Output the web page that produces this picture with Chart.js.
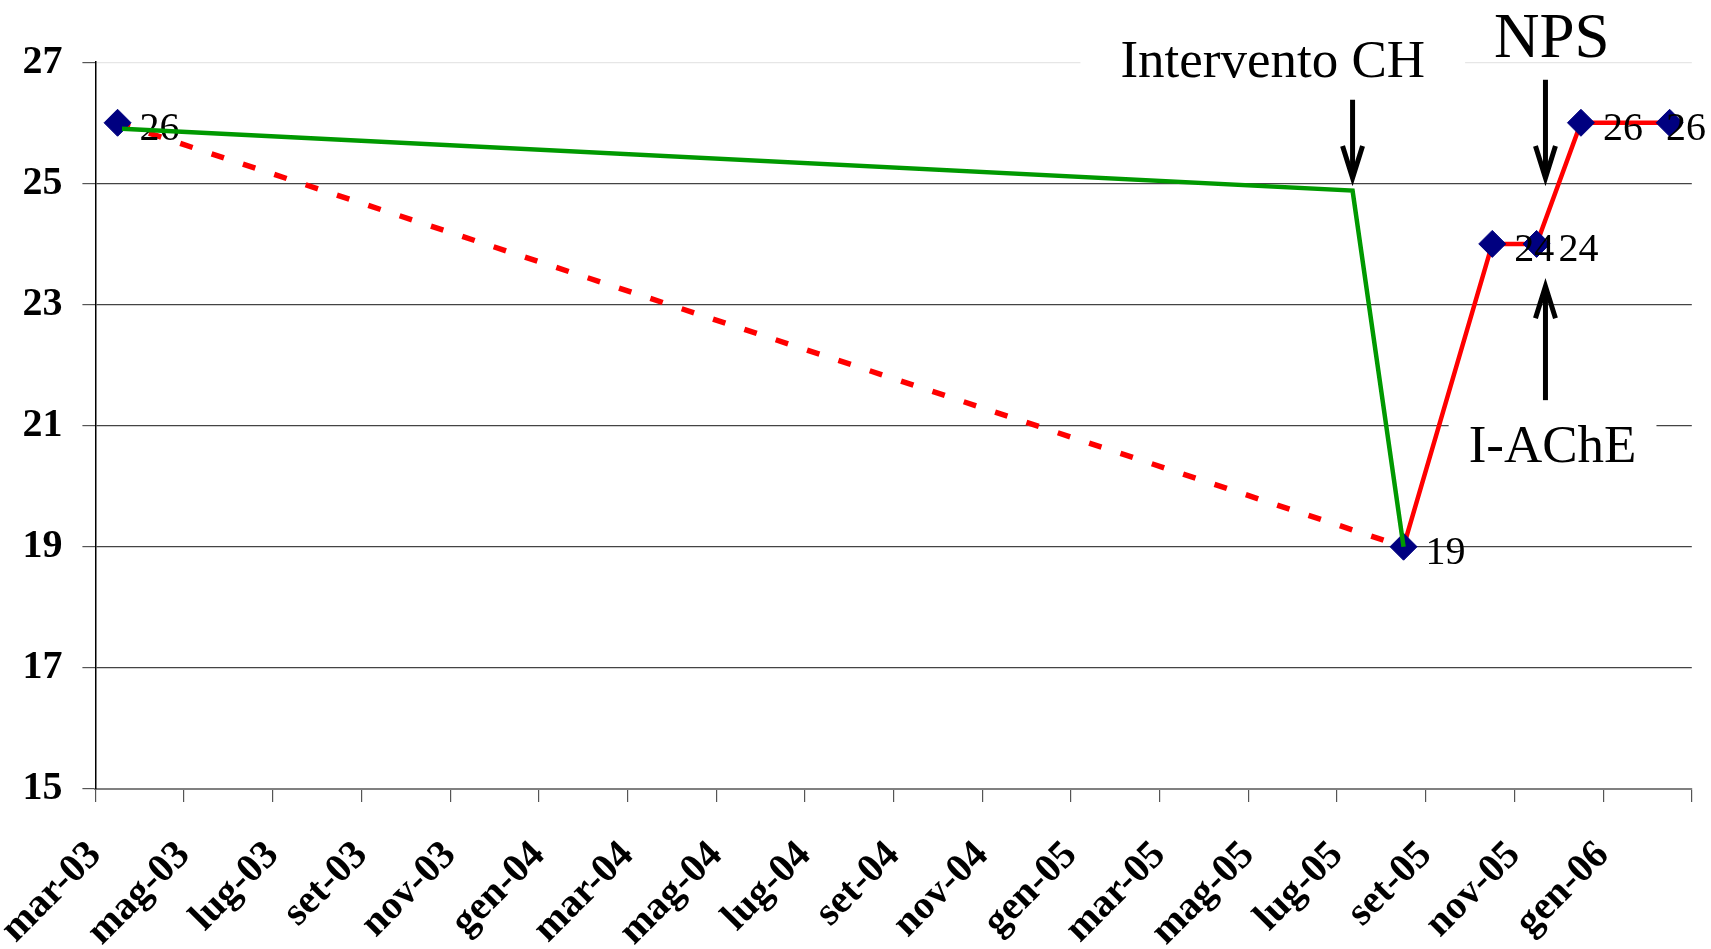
<!DOCTYPE html>
<html><head><meta charset="utf-8">
<script src="https://cdn.jsdelivr.net/npm/chart.js@4.4.0/dist/chart.umd.min.js"></script>
<style>html,body{margin:0;padding:0;background:#fff;overflow:hidden}#wrap{width:1711px;height:949px;position:relative}</style>
</head><body><div id="wrap"><canvas id="c" width="1711" height="949"></canvas></div>
<script>
// x values are months counted from the start of March 2003
const tickLabels = ['mar-03','mag-03','lug-03','set-03','nov-03','gen-04','mar-04','mag-04','lug-04','set-04','nov-04','gen-05','mar-05','mag-05','lug-05','set-05','nov-05','gen-06',''];
const pointMonths = [0.5, 29.5, 31.5, 32.5, 33.5, 35.5];
const scores = [26, 19, 24, 24, 26, 26];
const dashedMonths = [0.5, 29.5];
const dashedValues = [26, 19];
const solidMonths = [29.5, 31.5, 32.5, 33.5, 35.5];
const solidValues = [19, 24, 24, 26, 26];
const trendMonths = [0.6, 28.35, 29.5];
const trendValues = [25.9, 24.88, 19];
const annTexts = ['Intervento CH', 'NPS', 'I-AChE'];
const annTextMonths = [26.55, 32.84, 32.86];
const annTextValues = [26.76, 27.09, 20.40];
const arrowMonths = [28.35, 32.70, 32.70];
const arrowFrom = [26.38, 26.71, 21.42];
const arrowTo = [25.09, 25.09, 23.30];

const FONT = "'Liberation Serif','Times New Roman',serif";
const toXY = (xs, ys) => xs.map((x, i) => ({x, y: ys[i]}));

const labelPlugin = {
  id: 'pointLabels',
  afterDatasetDraw(chart, args) {
    if (args.index !== 3) return;
    const ctx = chart.ctx;
    const meta = args.meta;
    ctx.save();
    ctx.font = '40px ' + FONT;
    ctx.fillStyle = '#000';
    ctx.textAlign = 'left';
    ctx.textBaseline = 'alphabetic';
    meta.data.forEach((el, i) => {
      const t = String(scores[i]);
      const w = ctx.measureText(t).width;
      let x = el.x + 22;
      if (x + w > chart.width - 5) x = chart.width - 5 - w;
      ctx.fillText(t, x, el.y + 17);
    });
    ctx.restore();
  }
};

const annPlugin = {
  id: 'annotations',
  afterDraw(chart) {
    const ctx = chart.ctx, xs = chart.scales.x, ys = chart.scales.y;
    ctx.save();
    const sizes = [53, 63, 53];
    const boxPad = [40, 0, 20];
    annTexts.forEach((t, i) => {
      const cx = xs.getPixelForValue(annTextMonths[i]);
      const by = ys.getPixelForValue(annTextValues[i]);
      ctx.font = sizes[i] + 'px ' + FONT;
      const w = ctx.measureText(t).width;
      if (boxPad[i] > 0) {
        ctx.fillStyle = '#fff';
        ctx.fillRect(cx - w / 2 - boxPad[i], by - sizes[i] * 0.9, w + 2 * boxPad[i], sizes[i] * 1.15);
      }
      ctx.fillStyle = '#000';
      ctx.textAlign = 'center';
      ctx.textBaseline = 'alphabetic';
      ctx.fillText(t, cx, by);
    });
    ctx.strokeStyle = '#000';
    ctx.lineWidth = 5;
    ctx.lineJoin = 'miter';
    arrowMonths.forEach((m, i) => {
      const x = xs.getPixelForValue(m);
      const y0 = ys.getPixelForValue(arrowFrom[i]);
      const y1 = ys.getPixelForValue(arrowTo[i]);
      const dir = y1 > y0 ? 1 : -1;
      ctx.beginPath();
      ctx.moveTo(x, y0);
      ctx.lineTo(x, y1 - dir * 2);
      ctx.stroke();
      ctx.beginPath();
      ctx.moveTo(x - 10, y1 - dir * 32);
      ctx.lineTo(x, y1);
      ctx.lineTo(x + 10, y1 - dir * 32);
      ctx.stroke();
    });
    ctx.restore();
  }
};

new Chart(document.getElementById('c'), {
  type: 'scatter',
  data: {
    datasets: [
      { data: toXY(trendMonths, trendValues), showLine: true, borderColor: '#009900', borderWidth: 4.5, pointRadius: 0, order: 0 },
      { data: toXY(dashedMonths, dashedValues), showLine: true, borderColor: '#ff0000', borderWidth: 5.5, borderDash: [13, 20], borderCapStyle: 'butt', pointRadius: 0, order: 3 },
      { data: toXY(solidMonths, solidValues), showLine: true, borderColor: '#ff0000', borderWidth: 4.5, pointRadius: 0, order: 2 },
      { data: toXY(pointMonths, scores), showLine: false, pointStyle: 'rectRot', pointRadius: 13.5, pointBorderWidth: 1, backgroundColor: '#000080', borderColor: '#000080', order: 1 }
    ]
  },
  options: {
    responsive: false,
    animation: false,
    devicePixelRatio: 1,
    layout: { padding: { left: 0, right: 19.2, top: 62.2, bottom: 0 } },
    plugins: { legend: { display: false }, tooltip: { enabled: false } },
    scales: {
      x: {
        type: 'linear', min: 0, max: 36,
        afterFit(s) { s.height = 160; s.paddingLeft = 0; s.paddingRight = 0; },
        afterBuildTicks(s) { s.ticks = tickLabels.map((_, i) => ({ value: i * 2 })); },
        ticks: {
          autoSkip: false, maxRotation: 45, minRotation: 45, padding: 30,
          color: '#000', font: { family: FONT, size: 40, weight: 'bold' },
          callback: (v) => tickLabels[Math.round(v / 2)]
        },
        grid: { drawOnChartArea: false, tickLength: 13, color: '#555', lineWidth: 1.2 },
        border: { color: '#808080', width: 2 }
      },
      y: {
        min: 15, max: 27,
        afterFit(s) { s.width = 95.4; },
        ticks: { stepSize: 2, padding: 20, color: '#000', font: { family: FONT, size: 40, weight: 'bold' } },
        grid: { color: (c) => c.tick && c.tick.value === 27 ? '#e6e6e6' : '#444', tickColor: '#555', lineWidth: 1.2, tickLength: 13 },
        border: { color: '#000', width: 1.5 }
      }
    }
  },
  plugins: [labelPlugin, annPlugin]
});
</script></body></html>
